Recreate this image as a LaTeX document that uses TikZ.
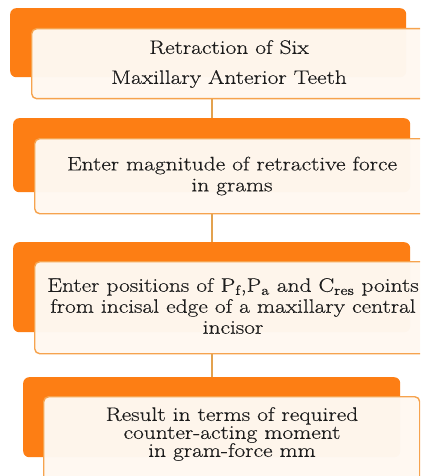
\documentclass[tikz,border=0pt]{standalone}
\usepackage{fontspec}
\setmainfont{Latin Modern Roman}[FakeStretch=1.2, FakeBold=0.35]
\definecolor{orng}{HTML}{FD7E14}
\definecolor{bord}{HTML}{F6A34E}
\definecolor{cream}{HTML}{FFF8F1}
\definecolor{conn}{HTML}{E3A24F}
\definecolor{txt}{HTML}{1C1C1C}
\tikzset{
  obox/.style={fill=orng, draw=none, rounded corners=6pt, anchor=north west, inner sep=0pt},
  wbox/.style={fill=cream, fill opacity=0.975, draw=bord, line width=1.4pt, rounded corners=5pt, anchor=north west, inner sep=0pt},
  ttxt/.style={text=txt, align=center, inner sep=0pt, font=\fontsize{19.5}{21}\selectfont},
  cline/.style={draw=conn, line width=1.6pt}
}
\begin{document}
\begin{tikzpicture}[x=1pt,y=-1pt]
\useasboundingbox (0,0) rectangle (420,476);
\fill[white] (0,0) rectangle (420,476);
\clip (0,0) rectangle (420,476);
% block 1
\node[obox, minimum width=396pt, minimum height=69pt] (o1) at (10,8) {};
\node[wbox, minimum width=400pt, minimum height=70pt] (w1) at (31,28) {};
\node[ttxt] (t1) at (229,64) {Retraction of Six\\[9pt]Maxillary Anterior Teeth};
% block 2
\node[obox, minimum width=397pt, minimum height=74pt] (o2) at (13,118) {};
\node[wbox, minimum width=400pt, minimum height=75pt] (w2) at (34,138) {};
\node[ttxt] (t2) at (232,176) {Enter magnitude of retractive force\\in grams};
% block 3
\node[obox, minimum width=397pt, minimum height=90pt] (o3) at (13,242) {};
\node[wbox, minimum width=400pt, minimum height=92pt] (w3) at (34,261) {};
\node[ttxt] (t3) at (233,306) {Enter positions of P\textsubscript{f},P\textsubscript{a} and C\textsubscript{res} points\\from incisal edge of a maxillary central\\incisor};
% block 4
\node[obox, minimum width=377pt, minimum height=80pt] (o4) at (23,377) {};
\node[wbox, minimum width=376pt, minimum height=90pt] (w4) at (43,396) {};
\node[ttxt, font=\fontsize{19.5}{18}\selectfont] (t4) at (232,434) {Result in terms of required\\counter-acting moment\\in gram-force mm};
% connectors
\draw[cline] (o2.north |- w1.south) -- (o2.north);
\draw[cline] (o2.north |- w2.south) -- (o3.north -| o2.north);
\draw[cline] (o2.north |- w3.south) -- (o4.north -| o2.north);
\end{tikzpicture}
\end{document}
